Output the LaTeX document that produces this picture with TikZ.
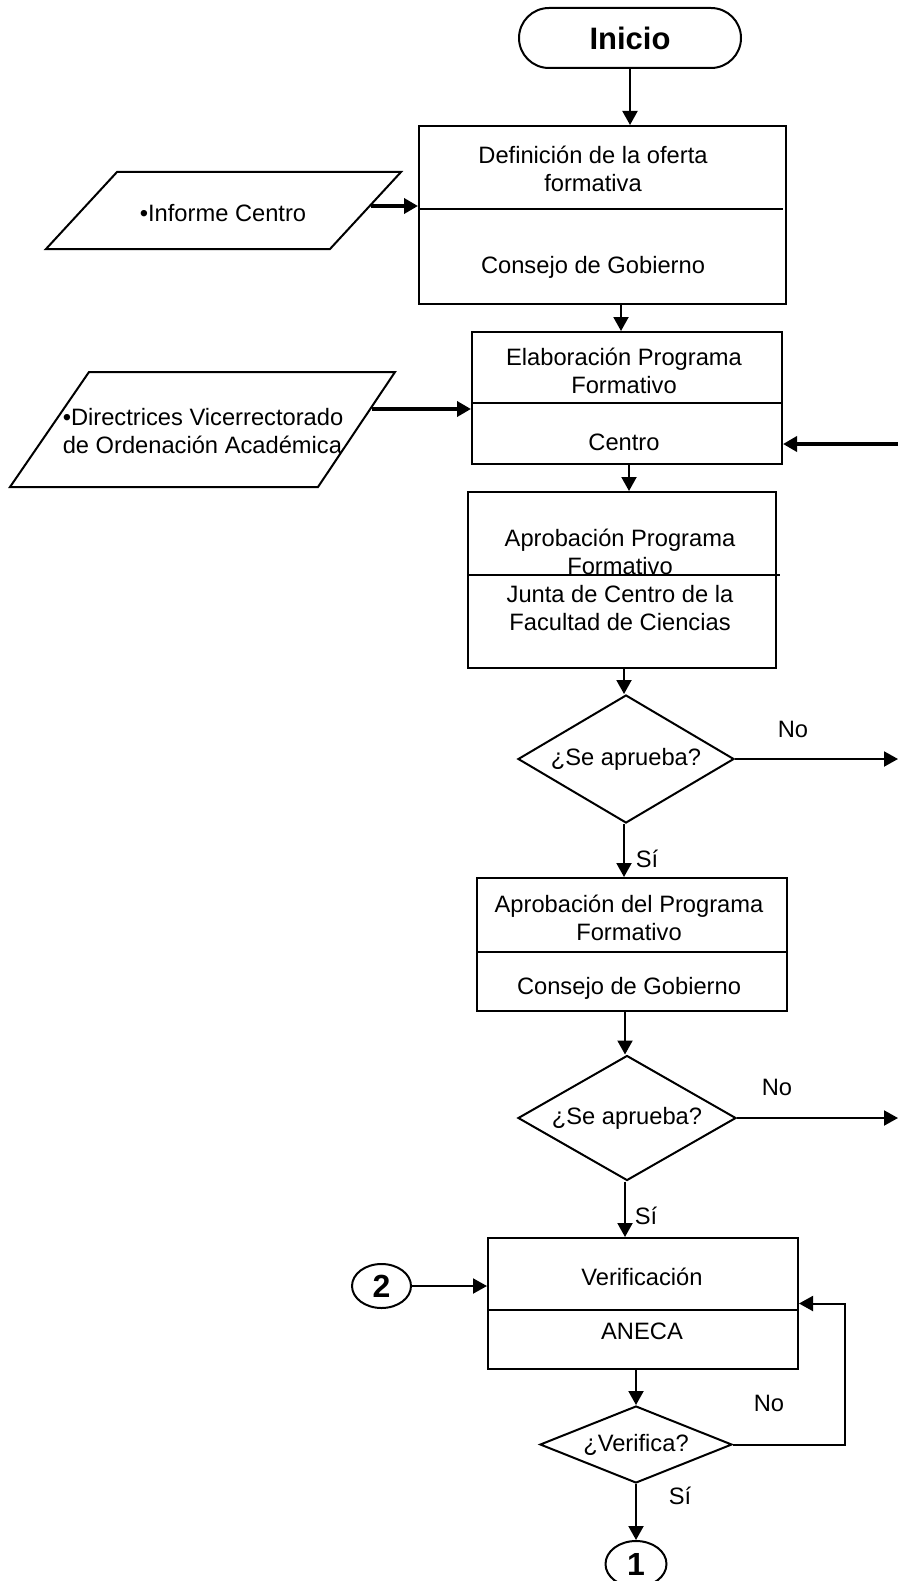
\documentclass[tikz,border=0pt]{standalone}
\usepackage{fontspec}
\setmainfont{Liberation Sans}
\usetikzlibrary{arrows.meta,shapes.geometric,calc}
\begin{document}
\begin{tikzpicture}[x=1pt,y=-1pt,
  every node/.style={font=\fontsize{23.7}{28}\selectfont},
  box/.style={draw,line width=2pt,rectangle,inner sep=0pt},
  txt/.style={align=center,inner sep=0pt},
  dia/.style={draw,line width=2pt,diamond,inner sep=0pt},
  conn/.style={draw,line width=2pt,ellipse,inner sep=0pt,font=\fontsize{32}{34}\selectfont\bfseries},
  arr/.style={line width=2pt,-{Triangle[length=14pt,width=15pt]}},
  tarr/.style={line width=4pt,-{Triangle[length=14pt,width=15pt]}},
  divl/.style={line width=2pt},
  para/.style={line width=2pt},
  lab/.style={inner sep=0pt}
]
\useasboundingbox (0,0) rectangle (898,1581);

% Start
\node[draw,line width=2pt,rounded corners=30pt,minimum width=222pt,minimum height=60pt,inner sep=0pt,font=\fontsize{31}{32}\selectfont\bfseries] (ini) at (630,38) {Inicio};

% Boxes
\node[box,minimum width=367pt,minimum height=178pt] (b1) at (602.5,215) {};
\draw[divl] ($(b1.north west)+(0,84)$) -- ($(b1.north east)+(-4,84)$);
\node[txt] (t1a) at (593,169) {Definición de la oferta\\formativa};
\node[txt] (t1b) at (593,267) {Consejo de Gobierno};

\node[box,minimum width=310pt,minimum height=132pt] (b2) at (627,398) {};
\draw[divl] ($(b2.north west)+(0,72)$) -- ($(b2.north east)+(0,72)$);
\node[txt] (t2a) at (624,371) {Elaboración Programa\\Formativo};
\node[txt] (t2b) at (624,442) {Centro};

\node[box,minimum width=308pt,minimum height=176pt] (b3) at (622,580) {};
\draw[divl] ($(b3.north west)+(0,84)$) -- ($(b3.north east)+(3,84)$);
\node[txt] (t3a) at (620,552) {Aprobación Programa\\Formativo};
\node[txt] (t3b) at (620,608) {Junta de Centro de la\\Facultad de Ciencias};

\node[box,minimum width=310pt,minimum height=133pt] (b4) at (632,944.5) {};
\draw[divl] ($(b4.north west)+(0,75)$) -- ($(b4.north east)+(0,75)$);
\node[txt] (t4a) at (629,918) {Aprobación del Programa\\Formativo};
\node[txt] (t4b) at (629,988) {Consejo de Gobierno};

\node[box,minimum width=310pt,minimum height=131pt] (b5) at (643,1303.5) {};
\draw[divl] ($(b5.north west)+(0,73)$) -- ($(b5.north east)+(0,73)$);
\node[txt] (t5a) at (642,1277) {Verificación};
\node[txt] (t5b) at (642,1331) {ANECA};

% Diamonds
\node[dia,minimum width=216pt,minimum height=128pt] (d1) at (626,759) {};
\node[txt] (d1t) at (d1) {¿Se aprueba?};
\node[dia,minimum width=218pt,minimum height=125pt] (d2) at (627,1118) {};
\node[txt] (d2t) at (d2) {¿Se aprueba?};
\node[dia,minimum width=192pt,minimum height=77pt] (d3) at (636,1444.5) {};
\node[txt] (d3t) at (d3) {¿Verifica?};

% Connectors (circles)
\node[conn,minimum width=59pt,minimum height=44pt] (c2) at (381.5,1286) {2};
\node[conn,minimum width=61pt,minimum height=46pt] (c1) at (636,1564) {1};

% Parallelograms
\draw[para] (117,172) -- (401,172) -- (330,249) -- (46,249) -- cycle;
\node[txt] (p1) at (223,213) {•Informe Centro};
\coordinate (p1r) at (371,206);
\draw[para] (89,372) -- (395,372) -- (318,487) -- (10,487) -- cycle;
\node[txt,align=left] (p2) at (203,431) {•Directrices Vicerrectorado\\de Ordenación Académica};
\coordinate (p2r) at (372,409);

% Edge coordinates
\coordinate (e1) at (898,759);
\coordinate (e2) at (898,1118);
\coordinate (e3) at (898,444);

% Arrows
\draw[arr] (ini.south) -- (ini.south |- b1.north);
\draw[arr] ([xshift=-6pt]b2.north |- b1.south) -- ([xshift=-6pt]b2.north);
\draw[arr] ([xshift=2pt]b2.south) -- ([xshift=2pt]b2.south |- b3.north);
\draw[arr] ([xshift=-2pt]d1.north |- b3.south) -- ([xshift=-2pt]d1.north);
\draw[arr] ([xshift=-2pt]d1.south) -- ([xshift=-2pt]d1.south |- b4.north);
\draw[arr] ([xshift=-2pt]d2.north |- b4.south) -- ([xshift=-2pt]d2.north);
\draw[arr] ([xshift=-2pt]d2.south) -- ([xshift=-2pt]d2.south |- b5.north);
\draw[arr] (d3.north |- b5.south) -- (d3.north);
\draw[arr] (d3.south) -- (c1.north);
\draw[arr] (c2.east) -- (c2.east -| b5.west);
\draw[arr] (d3.east) -- ++(112,0) |- (b5.east);
\draw[arr] (d1.east) -- (e1);
\draw[arr] (d2.east) -- (e2);
\draw[tarr] (e3) -- (e3 -| b2.east);
\draw[tarr] (p1r) -- (p1r -| b1.west);
\draw[tarr] (p2r) -- (p2r -| b2.west);

% Labels
\node[lab] (n1) at (793,729) {No};
\node[lab] (s1) at (647,859) {Sí};
\node[lab] (n2) at (777,1087) {No};
\node[lab] (s2) at (646,1216) {Sí};
\node[lab] (n3) at (769,1403) {No};
\node[lab] (s3) at (680,1496) {Sí};
\end{tikzpicture}
\end{document}
